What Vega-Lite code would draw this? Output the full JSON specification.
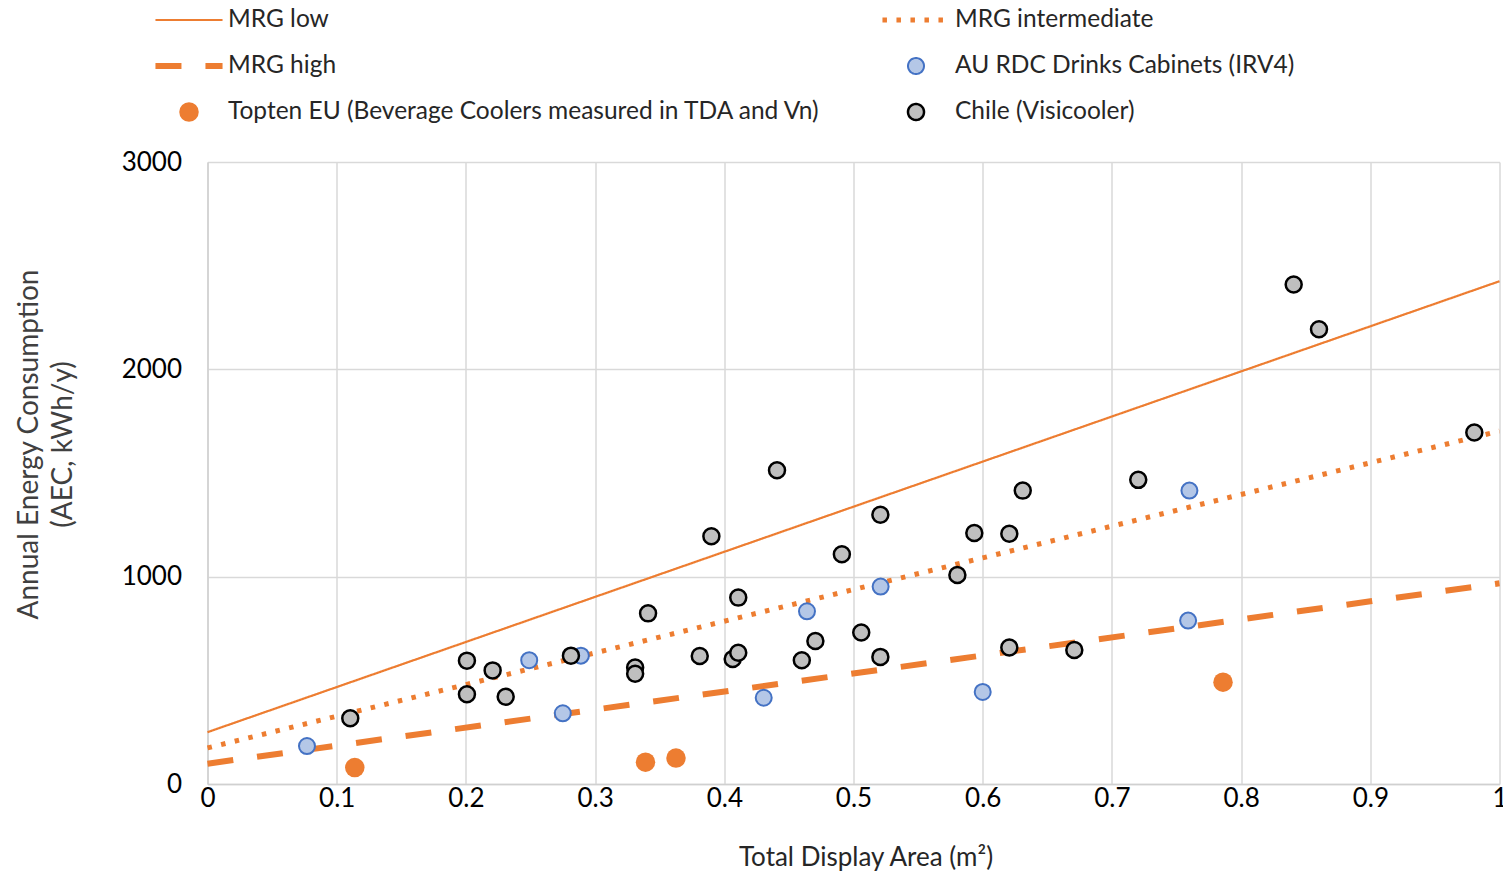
{
  "$schema": "https://vega.github.io/schema/vega-lite/v6.json",
  "width": 1292,
  "height": 622,
  "autosize": {"type": "none"},
  "padding": {"left": 207.5, "top": 162, "right": 3.5, "bottom": 91},
  "background": "white",
  "config": {
    "view": {"stroke": null},
    "font": "Lato",
    "legend": {
      "orient": "none",
      "legendX": -55.5,
      "legendY": -157,
      "columns": 2,
      "columnPadding": 57,
      "rowPadding": 16,
      "clipHeight": 30,
      "labelFont": "Lato",
      "labelFontSize": 24.5,
      "labelColor": "#262626",
      "labelOffset": 2,
      "labelLimit": 800,
      "title": null
    }
  },
  "datasets": {
    "lines": [
      {"area": 0, "aec": 250, "series": "MRG low"},
      {"area": 1, "aec": 2425, "series": "MRG low"},
      {"area": 0, "aec": 174, "series": "MRG intermediate"},
      {"area": 1, "aec": 1702, "series": "MRG intermediate"},
      {"area": 0, "aec": 98, "series": "MRG high"},
      {"area": 1, "aec": 968, "series": "MRG high"}
    ],
    "points": [
      {"area": 0.077, "aec": 183, "series": "AU RDC Drinks Cabinets (IRV4)"},
      {"area": 0.249, "aec": 597, "series": "AU RDC Drinks Cabinets (IRV4)"},
      {"area": 0.275, "aec": 341, "series": "AU RDC Drinks Cabinets (IRV4)"},
      {"area": 0.289, "aec": 619, "series": "AU RDC Drinks Cabinets (IRV4)"},
      {"area": 0.4305, "aec": 416, "series": "AU RDC Drinks Cabinets (IRV4)"},
      {"area": 0.464, "aec": 833, "series": "AU RDC Drinks Cabinets (IRV4)"},
      {"area": 0.521, "aec": 952, "series": "AU RDC Drinks Cabinets (IRV4)"},
      {"area": 0.6, "aec": 444, "series": "AU RDC Drinks Cabinets (IRV4)"},
      {"area": 0.759, "aec": 788, "series": "AU RDC Drinks Cabinets (IRV4)"},
      {"area": 0.76, "aec": 1415, "series": "AU RDC Drinks Cabinets (IRV4)"},
      {"area": 0.114, "aec": 79, "series": "Topten EU (Beverage Coolers measured in TDA and Vn)"},
      {"area": 0.339, "aec": 105, "series": "Topten EU (Beverage Coolers measured in TDA and Vn)"},
      {"area": 0.3626, "aec": 125, "series": "Topten EU (Beverage Coolers measured in TDA and Vn)"},
      {"area": 0.786, "aec": 491, "series": "Topten EU (Beverage Coolers measured in TDA and Vn)"},
      {"area": 0.1105, "aec": 317, "series": "Chile (Visicooler)"},
      {"area": 0.2008, "aec": 595, "series": "Chile (Visicooler)"},
      {"area": 0.2008, "aec": 433, "series": "Chile (Visicooler)"},
      {"area": 0.2207, "aec": 548, "series": "Chile (Visicooler)"},
      {"area": 0.2308, "aec": 421, "series": "Chile (Visicooler)"},
      {"area": 0.2813, "aec": 619, "series": "Chile (Visicooler)"},
      {"area": 0.331, "aec": 562, "series": "Chile (Visicooler)"},
      {"area": 0.331, "aec": 532, "series": "Chile (Visicooler)"},
      {"area": 0.341, "aec": 823, "series": "Chile (Visicooler)"},
      {"area": 0.381, "aec": 617, "series": "Chile (Visicooler)"},
      {"area": 0.39, "aec": 1195, "series": "Chile (Visicooler)"},
      {"area": 0.4065, "aec": 603, "series": "Chile (Visicooler)"},
      {"area": 0.4108, "aec": 633, "series": "Chile (Visicooler)"},
      {"area": 0.4108, "aec": 899, "series": "Chile (Visicooler)"},
      {"area": 0.4408, "aec": 1513, "series": "Chile (Visicooler)"},
      {"area": 0.46, "aec": 597, "series": "Chile (Visicooler)"},
      {"area": 0.4705, "aec": 690, "series": "Chile (Visicooler)"},
      {"area": 0.491, "aec": 1108, "series": "Chile (Visicooler)"},
      {"area": 0.506, "aec": 731, "series": "Chile (Visicooler)"},
      {"area": 0.5208, "aec": 613, "series": "Chile (Visicooler)"},
      {"area": 0.5208, "aec": 1299, "series": "Chile (Visicooler)"},
      {"area": 0.5804, "aec": 1008, "series": "Chile (Visicooler)"},
      {"area": 0.5935, "aec": 1211, "series": "Chile (Visicooler)"},
      {"area": 0.6206, "aec": 1207, "series": "Chile (Visicooler)"},
      {"area": 0.6206, "aec": 658, "series": "Chile (Visicooler)"},
      {"area": 0.631, "aec": 1415, "series": "Chile (Visicooler)"},
      {"area": 0.6709, "aec": 646, "series": "Chile (Visicooler)"},
      {"area": 0.7204, "aec": 1467, "series": "Chile (Visicooler)"},
      {"area": 0.8407, "aec": 2409, "series": "Chile (Visicooler)"},
      {"area": 0.8603, "aec": 2193, "series": "Chile (Visicooler)"},
      {"area": 0.9805, "aec": 1695, "series": "Chile (Visicooler)"}
    ]
  },
  "encoding": {
    "x": {
      "field": "area",
      "type": "quantitative",
      "scale": {"domain": [0, 1], "nice": false, "zero": false},
      "axis": {
        "title": "Total Display Area (m²)",
        "values": [0, 0.1, 0.2, 0.3, 0.4, 0.5, 0.6, 0.7, 0.8, 0.9, 1],
        "format": "~g",
        "grid": true,
        "gridColor": "#D9D9D9",
        "gridWidth": 1.5,
        "domainColor": "#D0D0D0",
        "domainWidth": 1.5,
        "ticks": false,
        "labelFlush": false,
        "labelOverlap": false,
        "labelBound": false,
        "labelFont": "Lato",
        "labelFontSize": 26,
        "labelColor": "#000000",
        "labelPadding": 1,
        "titleFont": "Lato",
        "titleFontSize": 26,
        "titleFontWeight": "normal",
        "titleColor": "#262626",
        "titleX": 658,
        "titleY": 60,
        "titleBaseline": "top"
      }
    },
    "y": {
      "field": "aec",
      "type": "quantitative",
      "scale": {"domain": [0, 3000], "nice": false},
      "axis": {
        "title": ["Annual Energy Consumption", "(AEC, kWh/y)"],
        "values": [0, 1000, 2000, 3000],
        "format": "d",
        "grid": true,
        "gridColor": "#D9D9D9",
        "gridWidth": 1.5,
        "domainColor": "#D0D0D0",
        "domainWidth": 1.5,
        "ticks": false,
        "labelFlush": false,
        "labelOverlap": false,
        "labelFont": "Lato",
        "labelFontSize": 26,
        "labelColor": "#000000",
        "labelPadding": 26,
        "titleFont": "Lato",
        "titleFontSize": 28,
        "titleFontWeight": "normal",
        "titleColor": "#404040",
        "titleAngle": -90,
        "titleAlign": "center",
        "titleBaseline": "top",
        "titleLineHeight": 34,
        "titleX": -192,
        "titleY": 282
      }
    }
  },
  "layer": [
    {
      "data": {"name": "lines"},
      "mark": {"type": "line", "strokeCap": "butt", "opacity": 1},
      "encoding": {
        "stroke": {
          "field": "series",
          "type": "nominal",
          "scale": {
            "domain": ["MRG low", "MRG high", "Topten EU (Beverage Coolers measured in TDA and Vn)", "MRG intermediate", "AU RDC Drinks Cabinets (IRV4)", "Chile (Visicooler)"],
            "range": ["#ED7D31", "#ED7D31", "#ED7D31", "#ED7D31", "#4472C4", "#000000"]
          }
        },
        "strokeDash": {
          "field": "series",
          "type": "nominal",
          "scale": {
            "domain": ["MRG low", "MRG high", "Topten EU (Beverage Coolers measured in TDA and Vn)", "MRG intermediate", "AU RDC Drinks Cabinets (IRV4)", "Chile (Visicooler)"],
            "range": [[1, 0], [26, 24], [1, 0], [4.5, 9.5], [1, 0], [1, 0]]
          }
        },
        "strokeWidth": {
          "field": "series",
          "type": "nominal",
          "scale": {
            "type": "ordinal",
            "domain": ["MRG low", "MRG high", "Topten EU (Beverage Coolers measured in TDA and Vn)", "MRG intermediate", "AU RDC Drinks Cabinets (IRV4)", "Chile (Visicooler)"],
            "range": [2.2, 6, 0, 5, 2, 2.5]
          }
        }
      }
    },
    {
      "data": {"name": "points"},
      "mark": {"type": "point", "filled": true, "opacity": 1},
      "encoding": {
        "fill": {
          "field": "series",
          "type": "nominal",
          "scale": {
            "domain": ["MRG low", "MRG high", "Topten EU (Beverage Coolers measured in TDA and Vn)", "MRG intermediate", "AU RDC Drinks Cabinets (IRV4)", "Chile (Visicooler)"],
            "range": ["transparent", "transparent", "#ED7D31", "transparent", "#B4C7E7", "#BFBFBF"]
          }
        },
        "stroke": {
          "field": "series",
          "type": "nominal",
          "scale": {
            "domain": ["MRG low", "MRG high", "Topten EU (Beverage Coolers measured in TDA and Vn)", "MRG intermediate", "AU RDC Drinks Cabinets (IRV4)", "Chile (Visicooler)"],
            "range": ["#ED7D31", "#ED7D31", "#ED7D31", "#ED7D31", "#4472C4", "#000000"]
          }
        },
        "strokeWidth": {
          "field": "series",
          "type": "nominal",
          "scale": {
            "type": "ordinal",
            "domain": ["MRG low", "MRG high", "Topten EU (Beverage Coolers measured in TDA and Vn)", "MRG intermediate", "AU RDC Drinks Cabinets (IRV4)", "Chile (Visicooler)"],
            "range": [2.2, 6, 0, 5, 2, 2.5]
          }
        },
        "shape": {
          "field": "series",
          "type": "nominal",
          "scale": {
            "domain": ["MRG low", "MRG high", "Topten EU (Beverage Coolers measured in TDA and Vn)", "MRG intermediate", "AU RDC Drinks Cabinets (IRV4)", "Chile (Visicooler)"],
            "range": ["stroke", "stroke", "circle", "stroke", "circle", "circle"]
          }
        },
        "size": {
          "field": "series",
          "type": "nominal",
          "scale": {
            "type": "ordinal",
            "domain": ["MRG low", "MRG high", "Topten EU (Beverage Coolers measured in TDA and Vn)", "MRG intermediate", "AU RDC Drinks Cabinets (IRV4)", "Chile (Visicooler)"],
            "range": [4500, 4500, 380, 4500, 256, 256]
          }
        }
      }
    }
  ]
}
